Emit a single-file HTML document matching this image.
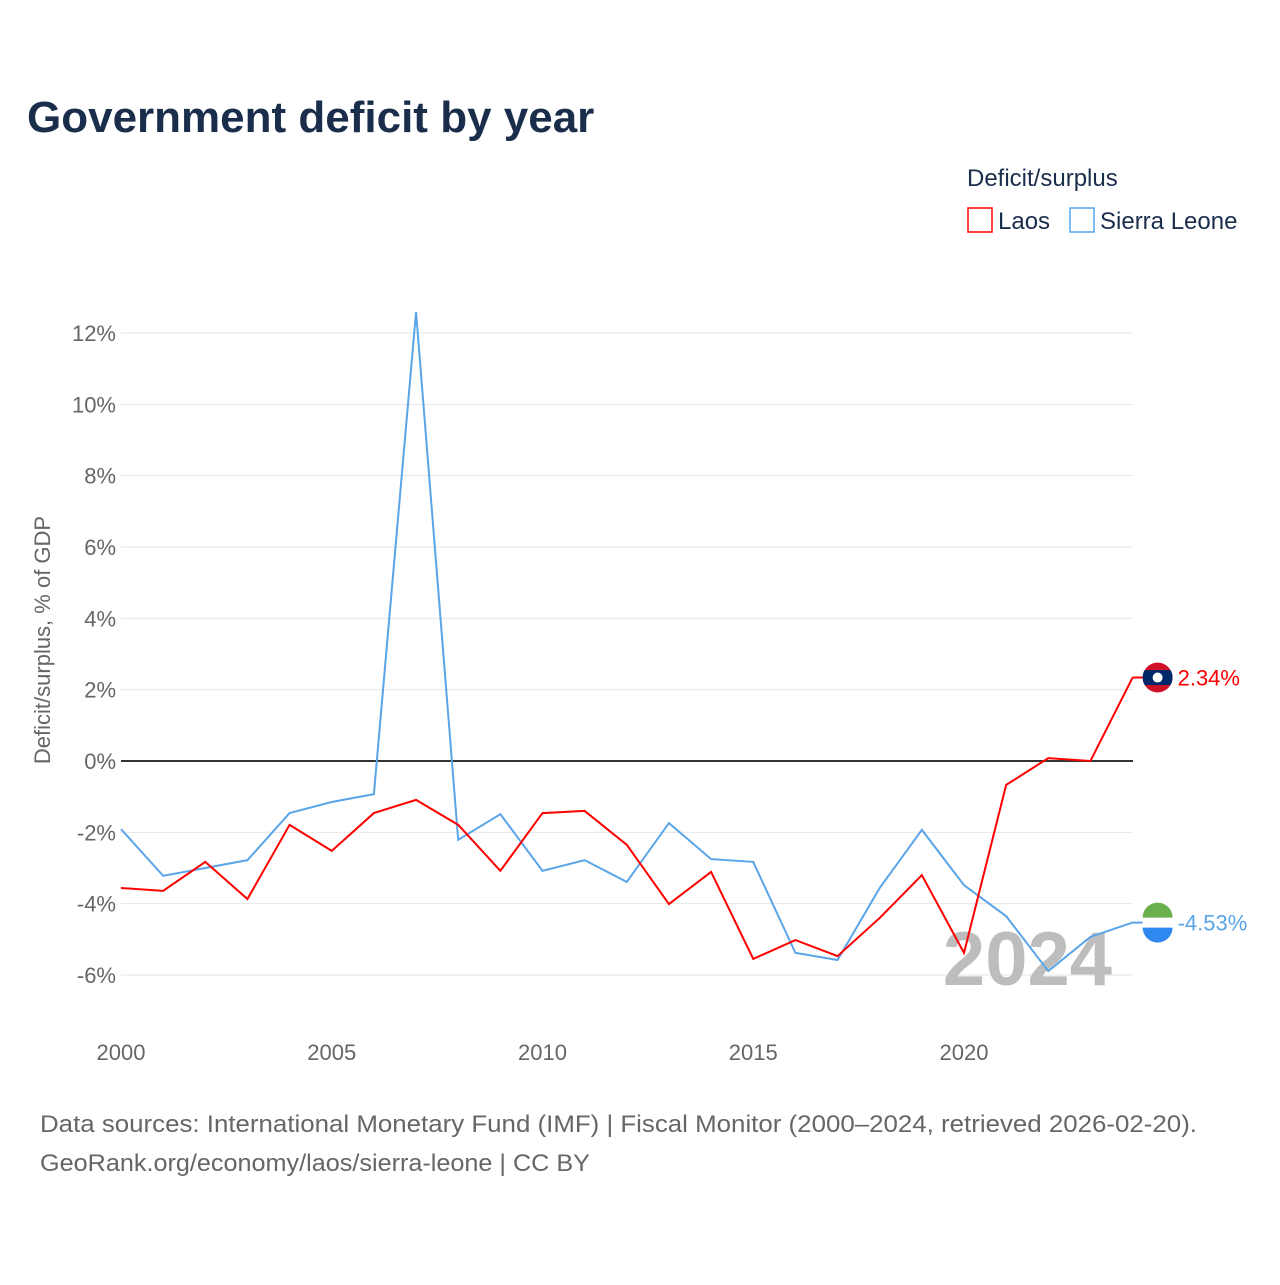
<!DOCTYPE html>
<html><head><meta charset="utf-8"><style>
body{margin:0;background:#fff;font-family:"Liberation Sans",sans-serif;}
#wrap{position:relative;width:1280px;height:1280px;}
</style></head><body>
<div id="wrap">
<svg id="svg" width="1280" height="1280" xmlns="http://www.w3.org/2000/svg" font-family="Liberation Sans, sans-serif">
<defs><clipPath id="cl"><circle id="clc" cx="0" cy="0" r="15"/></clipPath></defs>
<text x="27" y="132" font-size="44" font-weight="bold" fill="#1a2e4c">Government deficit by year</text>
<text x="967" y="186" font-size="24" fill="#1a2e4c">Deficit/surplus</text>
<g><rect x="968" y="208" width="24" height="24" fill="#fff" stroke="#ff0000" stroke-width="1.5"/><text x="998" y="229" font-size="24" fill="#1a2e4c">Laos</text></g>
<g><rect x="1070" y="208" width="24" height="24" fill="#fff" stroke="#5aa4e8" stroke-width="1.5"/><text x="1100" y="229" font-size="24" fill="#1a2e4c">Sierra Leone</text></g>
<text transform="translate(50,640) rotate(-90)" text-anchor="middle" font-size="22" fill="#666">Deficit/surplus, % of GDP</text>
<g id="grid"></g><g id="ticks"></g>
<text x="1112" y="985" text-anchor="end" font-size="76" font-weight="bold" fill="#bdbdbd">2024</text>
<g id="lines"></g>
<text x="40" y="1132" font-size="24" fill="#666" textLength="1157" lengthAdjust="spacingAndGlyphs">Data sources: International Monetary Fund (IMF) | Fiscal Monitor (2000–2024, retrieved 2026-02-20).</text>
<text x="40" y="1171" font-size="24" fill="#666" textLength="550" lengthAdjust="spacingAndGlyphs">GeoRank.org/economy/laos/sierra-leone | CC BY</text>
</svg></div>
<script>
const years=[2000,2001,2002,2003,2004,2005,2006,2007,2008,2009,2010,2011,2012,2013,2014,2015,2016,2017,2018,2019,2020,2021,2022,2023,2024];
const laos=[-3.56,-3.64,-2.83,-3.87,-1.79,-2.52,-1.46,-1.09,-1.79,-3.08,-1.46,-1.40,-2.35,-4.01,-3.11,-5.55,-5.02,-5.47,-4.40,-3.20,-5.38,-0.67,0.08,0.0,2.34];
const sierra=[-1.91,-3.22,-3.00,-2.78,-1.46,-1.15,-0.93,12.59,-2.21,-1.49,-3.08,-2.78,-3.39,-1.74,-2.75,-2.83,-5.38,-5.58,-3.56,-1.93,-3.48,-4.35,-5.89,-4.93,-4.53];
const yTicks=[-6,-4,-2,0,2,4,6,8,10,12];
const xTicks=[2000,2005,2010,2015,2020];
const NS="http://www.w3.org/2000/svg";
const x=v=>121+(v-2000)*(964-121)/20;
const y=v=>761-v*(761-333)/12;
function mk(t,a,p){const e=document.createElementNS(NS,t);for(const k in a)e.setAttribute(k,a[k]);p.appendChild(e);return e;}
const grid=document.getElementById('grid'),ticks=document.getElementById('ticks'),lines=document.getElementById('lines');
yTicks.forEach(t=>{
 const l=mk('line',{x1:121,x2:1133,y1:y(t),y2:y(t),stroke:t===0?'#333':'#e6e6e6','stroke-width':t===0?2:1},grid);
 
 
 const tx=mk('text',{x:116,y:y(t)+8,'text-anchor':'end','font-size':22,fill:'#666'},ticks);
 tx.textContent=t+'%';
 
 
});
xTicks.forEach(t=>{
 const tx=mk('text',{x:x(t),y:1060,'text-anchor':'middle','font-size':22,fill:'#666'},ticks);
 tx.textContent=t;
 
 
});
function series(vals,color,name){
 const p=mk('polyline',{points:vals.map((v,i)=>x(years[i])+','+y(v)).join(' '),fill:'none',stroke:color,'stroke-width':2},lines);
 
 
}
series(sierra,'#5aa4e8','sierra-leone');
series(laos,'#ff0000','laos');
const lx=x(2024)+25;
const ly=y(laos[laos.length-1]), sy=y(sierra[sierra.length-1]);
mk('line',{x1:x(2024),x2:lx,y1:ly,y2:ly,stroke:'#ff0000','stroke-width':2},lines);
mk('line',{x1:x(2024),x2:lx,y1:sy,y2:sy,stroke:'#5aa4e8','stroke-width':2},lines);
const f1=mk('g',{'clip-path':'url(#cl)',transform:`translate(${lx},${ly})`},lines);


mk('circle',{cx:0,cy:0,r:15,fill:'#ce1126'},f1);
mk('rect',{x:-15,y:-7.5,width:30,height:15,fill:'#002868'},f1);
mk('circle',{cx:0,cy:0,r:5,fill:'#fff'},f1);
const f2=mk('g',{transform:`translate(${lx},${sy})`},lines);


mk('circle',{cx:0,cy:0,r:15,fill:'#fff'},f2);
mk('path',{d:`M-15,-5 A15,15 0 0 1 15,-5 Z`,fill:'#6ab04c'},f2);
mk('path',{d:`M-15,5 A15,15 0 0 0 15,5 Z`,fill:'#2f87f0'},f2);
const t1=mk('text',{x:lx+20,y:ly+8,'font-size':22,fill:'#ff0000'},lines);
t1.textContent=laos[laos.length-1].toFixed(2)+'%';


const t2=mk('text',{x:lx+20,y:sy+8,'font-size':22,fill:'#5aa4e8'},lines);
t2.textContent=sierra[sierra.length-1].toFixed(2)+'%';


</script>
</body></html>
